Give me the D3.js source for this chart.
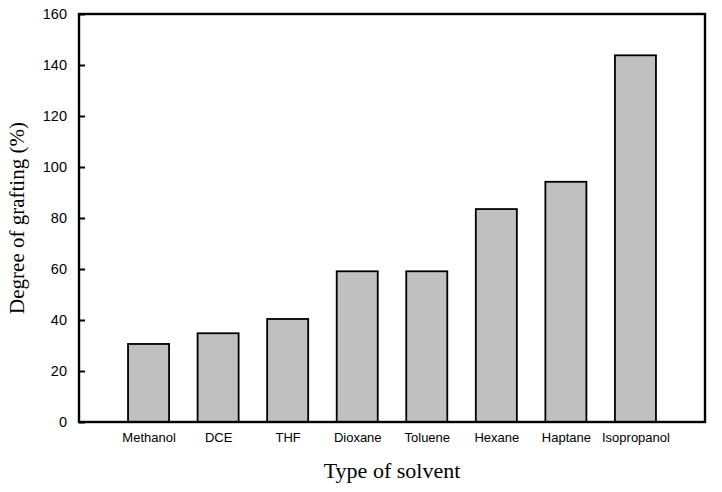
<!DOCTYPE html>
<html><head><meta charset="utf-8">
<script src="https://cdn.jsdelivr.net/npm/d3@7"></script>
<style>body{margin:0;background:#fff}svg{display:block}</style>
</head><body>
<svg id="c" width="722" height="492"></svg>
<script>
const categories = ["Methanol","DCE","THF","Dioxane","Toluene","Hexane","Haptane","Isopropanol"];
const values = [30.6, 34.8, 40.4, 59.1, 59.1, 83.5, 94.2, 143.8];
const yTicks = [0,20,40,60,80,100,120,140,160];

const svg = d3.select("#c");
const L = 79, R = 705, T = 14, B = 422;
const x = d3.scaleLinear().domain([0, categories.length + 1]).range([L, R]);
const y = d3.scaleLinear().domain([0, 160]).range([B, T]);
const step = x(1) - x(0);
const bw = step * 0.59;

svg.append("g").selectAll("rect").data(values).join("rect")
  .attr("x", (d,i) => x(i+1) - bw/2)
  .attr("y", d => y(d))
  .attr("width", bw)
  .attr("height", d => y(0) - y(d))
  .attr("fill", "#c0c0c0")
  .attr("stroke", "#000")
  .attr("stroke-width", 1.8);

// frame
svg.append("rect").attr("x", L).attr("y", T).attr("width", R-L).attr("height", B-T)
  .attr("fill","none").attr("stroke","#000").attr("stroke-width",2.4);

// y axis
const yAxis = d3.axisLeft(y).tickValues(yTicks).tickSize(-6).tickPadding(12).tickFormat(d3.format("d"));
const gy = svg.append("g").attr("transform", `translate(${L},0)`).call(yAxis);
gy.select(".domain").remove();
gy.selectAll(".tick line").attr("stroke","#000").attr("stroke-width",2);
gy.selectAll(".tick text").attr("font-family","'Liberation Sans', Arial, sans-serif").attr("font-size",14.5).attr("fill","#000");

// x labels
const xAxis = d3.axisBottom(x).tickValues(categories.map((c,i)=>i+1)).tickFormat((d)=>categories[d-1]).tickSize(0).tickPadding(11);
const gx = svg.append("g").attr("transform", `translate(0,${B})`).call(xAxis);
gx.select(".domain").remove();
gx.selectAll(".tick text").attr("font-family","'Liberation Sans', Arial, sans-serif").attr("font-size",13).attr("fill","#000");

// titles
svg.append("text").attr("x", (L+R)/2).attr("y", 478).attr("text-anchor","middle")
  .attr("font-family","'Liberation Serif', 'Times New Roman', serif").attr("font-size",22).attr("fill","#000")
  .text("Type of solvent");
svg.append("text").attr("transform", `translate(24,${(T+B)/2}) rotate(-90)`).attr("text-anchor","middle")
  .attr("font-family","'Liberation Serif', 'Times New Roman', serif").attr("font-size",21).attr("fill","#000")
  .text("Degree of grafting (%)");
</script>
</body></html>
